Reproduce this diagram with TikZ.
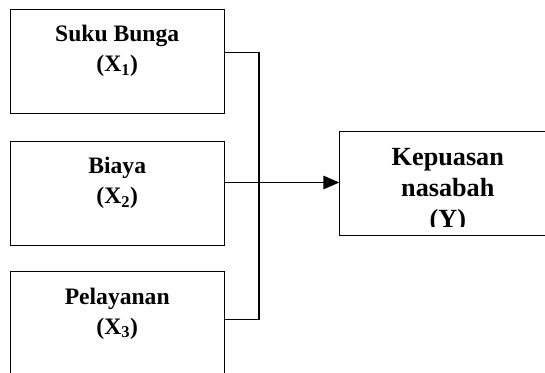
\documentclass[tikz,border=0pt]{standalone}
\usepackage{fontspec}
\setmainfont{Liberation Serif}
\usetikzlibrary{arrows.meta,calc,positioning}
\tikzset{
  VarBox/.style={draw,line width=0.9pt,minimum width=214pt,minimum height=104pt,inner sep=0pt,outer sep=0pt},
  VarText/.style={anchor=base,align=center,inner sep=0pt,font=\fontsize{23.6}{30}\selectfont\bfseries},
  DepText/.style={anchor=base,align=center,inner sep=0pt,font=\fontsize{26.2}{31}\selectfont\bfseries},
  Link/.style={line width=1.4pt}
}

\begin{document}
\begin{tikzpicture}[x=1pt,y=-1pt]
\clip (0,0) rectangle (545,372);

\node[VarBox] (X1) at (117.2,61.3) {};
\node[VarBox] (X2) at (117.2,193) {};
\node[VarBox] (X3) at (117.2,323.7) {};
\node[VarBox] (Y) at (446.3,183) {};

\node[VarText] (tX1) at ($(X1.north)+(0,62.4)$) {Suku Bunga\\(X\textsubscript{1})};
\node[VarText] (tX2) at ($(X2.north)+(0,62.3)$) {Biaya\\(X\textsubscript{2})};
\node[VarText] (tX3) at ($(X3.north)+(0,62.3)$) {Pelayanan\\(X\textsubscript{3})};

\begin{scope}
\clip (Y.north west) rectangle (545,226);
\node[DepText] (tY) at ($(Y.north)+(1.5,96.5)$) {Kepuasan\\nasabah\\(Y)};
\end{scope}

\coordinate (j1) at (259,52.5);
\coordinate (j3) at (259,319.3);
\coordinate (a2) at ($(X2.east)+(0,-10.5)$);

\draw[Link] (X1.east |- j1) -- (j1) -- (j3) -- (X3.east |- j3);
\draw[Link,-{Triangle[length=16pt,width=13.5pt]}] (a2) -- (a2 -| Y.west);

\end{tikzpicture}
\end{document}
